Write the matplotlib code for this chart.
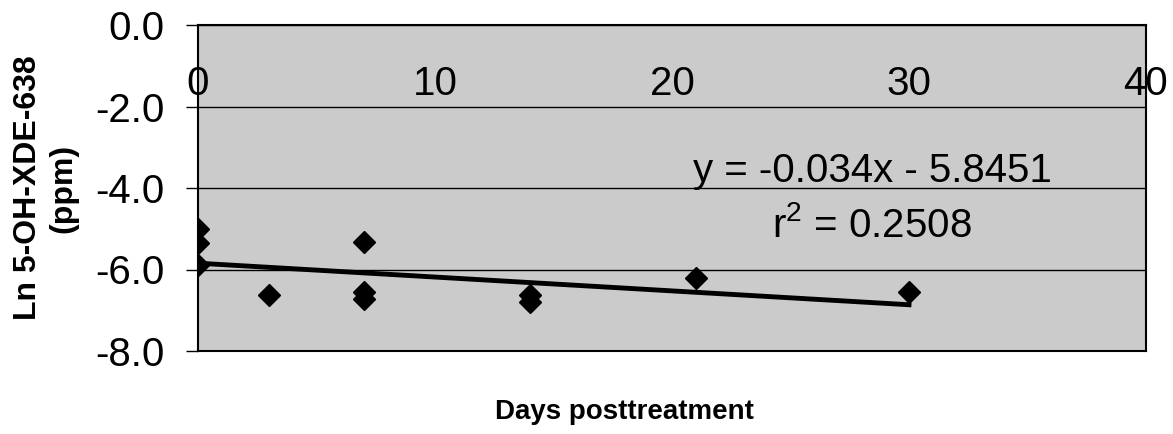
"""Ln 5-OH-XDE-638 residues vs days posttreatment, with linear trend."""
import matplotlib
matplotlib.use('Agg')
import matplotlib.pyplot as plt
import numpy as np

plt.rcParams['font.family'] = ['Liberation Sans', 'DejaVu Sans']
plt.rcParams['mathtext.fontset'] = 'custom'
plt.rcParams['mathtext.rm'] = 'Liberation Sans'
plt.rcParams['mathtext.it'] = 'Liberation Sans'

days = [0, 0, 0, 3, 7, 7, 7, 14, 14, 21, 30]
ln_conc = [-5.0, -5.35, -5.9, -6.63, -5.33, -6.55, -6.72, -6.63, -6.8, -6.21, -6.56]

# fitted trend line
slope = -0.034
intercept = -5.8451
fit_days = [0, 30]
r2 = 0.2508

xticks = [0, 10, 20, 30, 40]
yticks = [0.0, -2.0, -4.0, -6.0, -8.0]

fig = plt.figure(figsize=(11.73, 4.34), dpi=100)
ax = fig.add_axes([198 / 1173, 1 - 351 / 434, (1146 - 198) / 1173, (351 - 25) / 434])
ax.set_facecolor('#cbcbcb')

ax.plot(days, ln_conc, linestyle='none', marker='D', markersize=11,
        color='black', zorder=3)
fit_y = [intercept + slope * d for d in fit_days]
ax.plot(fit_days, fit_y, color='black', linewidth=3.5, zorder=4)

ax.set_xlim(0, 40)
ax.set_ylim(-8, 0)

ax.set_yticks(yticks)
ax.set_yticklabels(['{:.1f}'.format(v) for v in yticks])
ax.tick_params(axis='y', labelsize=29, length=9, width=1, pad=15, direction='out')
ax.yaxis.grid(True, color='black', linewidth=1)
ax.set_axisbelow(True)

ax.xaxis.set_ticks_position('top')
ax.set_xticks(xticks)
ax.tick_params(axis='x', labeltop=True, labelbottom=False, labelsize=29,
               length=0, pad=-56)
for lbl in ax.get_xticklabels():
    lbl.set_clip_on(False)

for side in ['left', 'top', 'bottom', 'right']:
    ax.spines[side].set_color('black')
    ax.spines[side].set_linewidth(1.5)

ax.text(28.45, -3.58, 'y = {}x - {}'.format(slope, -intercept),
        fontsize=29, ha='center', va='center')
ax.text(28.45, -4.91, r'$\mathrm{r}^{2}$' + ' = {}'.format(r2),
        fontsize=29, ha='center', va='center')

fig.text(624 / 1173, 1 - 412 / 434, 'Days posttreatment', fontsize=20,
         fontweight='bold', ha='center', va='center')
fig.text(46 / 1173, 1 - 188 / 434, 'Ln 5-OH-XDE-638\n(ppm)', fontsize=23,
         fontweight='bold', ha='center', va='center', rotation=90,
         multialignment='center', linespacing=1.25)

fig.savefig('out.png', dpi=100)
